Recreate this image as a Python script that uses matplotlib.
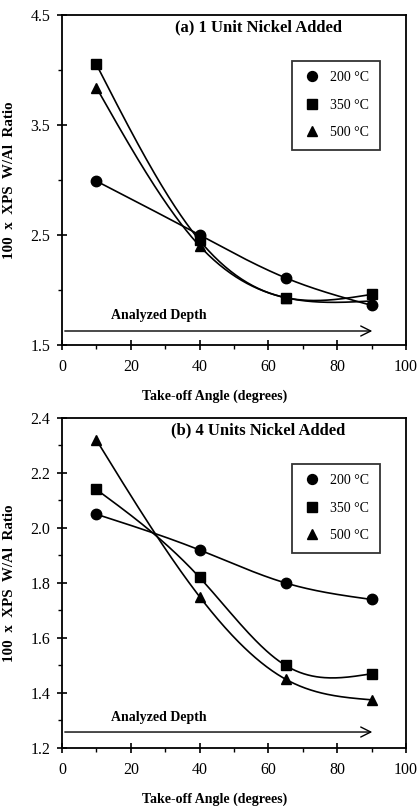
import numpy as np
import matplotlib
matplotlib.use("Agg")
import matplotlib.pyplot as plt
from matplotlib.ticker import MultipleLocator

plt.rcParams['font.family'] = ['Liberation Serif', 'DejaVu Serif']

angles = [10, 40, 65, 90]
labels = ['200 °C', '350 °C', '500 °C']
markers = ['o', 's', '^']

# panel (a): 1 unit nickel added
ratio_a_200 = [2.99, 2.50, 2.11, 1.86]
ratio_a_350 = [4.05, 2.45, 1.93, 1.96]
ratio_a_500 = [3.84, 2.40, 1.93, 1.90]

# panel (b): 4 units nickel added
ratio_b_200 = [2.05, 1.92, 1.80, 1.74]
ratio_b_350 = [2.14, 1.82, 1.50, 1.47]
ratio_b_500 = [2.32, 1.75, 1.45, 1.375]

yticks_a = [1.5, 2.5, 3.5, 4.5]
yticks_b = [1.2, 1.4, 1.6, 1.8, 2.0, 2.2, 2.4]


def natural_spline(x, y, n=200):
    """Natural cubic spline through the points, for the smooth connecting line."""
    x = np.asarray(x, float)
    y = np.asarray(y, float)
    k = len(x)
    h = np.diff(x)
    A = np.zeros((k, k))
    b = np.zeros(k)
    A[0, 0] = A[-1, -1] = 1
    for i in range(1, k - 1):
        A[i, i - 1] = h[i - 1]
        A[i, i] = 2 * (h[i - 1] + h[i])
        A[i, i + 1] = h[i]
        b[i] = 6 * ((y[i + 1] - y[i]) / h[i] - (y[i] - y[i - 1]) / h[i - 1])
    M = np.linalg.solve(A, b)
    xs = np.linspace(x[0], x[-1], n)
    idx = np.clip(np.searchsorted(x, xs) - 1, 0, k - 2)
    x0, x1 = x[idx], x[idx + 1]
    hh = x1 - x0
    t1 = x1 - xs
    t0 = xs - x0
    ys = (M[idx] * t1 ** 3 + M[idx + 1] * t0 ** 3) / (6 * hh) \
        + (y[idx] / hh - M[idx] * hh / 6) * t1 \
        + (y[idx + 1] / hh - M[idx + 1] * hh / 6) * t0
    return xs, ys


def draw_panel(ax, series, title, yticks, arrow_y, text_y):
    for vals, m, lab in zip(series, markers, labels):
        xs, ys = natural_spline(angles, vals)
        ax.plot(xs, ys, color='black', lw=1.2)
        ax.plot(angles, vals, linestyle='none', marker=m, color='black',
                markersize=7.5, label=lab)
    ax.set_xlim(0, 100)
    ax.set_ylim(yticks[0], yticks[-1])
    ax.xaxis.set_major_locator(MultipleLocator(20))
    ax.xaxis.set_minor_locator(MultipleLocator(10))
    ax.set_yticks(yticks)
    ax.set_yticklabels(['%.1f' % v for v in yticks])
    step = yticks[1] - yticks[0]
    ax.set_yticks([v + step / 2 for v in yticks[:-1]], minor=True)
    ax.tick_params(which='major', direction='inout', length=7, width=1.2, labelsize=11.5)
    ax.tick_params(axis='x', which='major', pad=6.5)
    ax.tick_params(axis='y', which='major', pad=5)
    ax.tick_params(which='minor', direction='out', length=3, width=1.0)
    for s in ax.spines.values():
        s.set_linewidth(1.3)
    ylo, yhi = yticks[0], yticks[-1]
    ax.text(57, yhi - (yhi - ylo) * 0.037, title, ha='center', va='center',
            fontsize=12, fontweight='bold')
    ax.annotate('', xy=(91, arrow_y), xytext=(0, arrow_y),
                arrowprops=dict(arrowstyle='->', color='black', lw=1.0,
                                mutation_scale=18))
    ax.text(28, text_y, 'Analyzed Depth', ha='center', va='center',
            fontsize=10, fontweight='bold')
    ax.set_xlabel('Take-off Angle (degrees)', fontsize=10, fontweight='bold')
    ax.xaxis.set_label_coords(0.445, -0.135)
    ax.set_ylabel('100  x  XPS  W/Al  Ratio', fontsize=10.8, fontweight='bold')
    ax.yaxis.set_label_coords(-0.135, 0.5)
    leg = ax.legend(loc='upper left', bbox_to_anchor=(0.669, 0.862), frameon=True,
                    fancybox=False, edgecolor='black', fontsize=10, handlelength=1.4,
                    handletextpad=0.6, borderpad=0.75, labelspacing=1.05,
                    borderaxespad=0, markerscale=0.95)
    leg.get_frame().set_linewidth(1.3)


fig = plt.figure(figsize=(4.17, 8.06), dpi=100)
ax1 = fig.add_axes([0.1487, 0.572, 0.825, 0.4094])
ax2 = fig.add_axes([0.1487, 0.072, 0.825, 0.4094])

draw_panel(ax1, [ratio_a_200, ratio_a_350, ratio_a_500], '(a) 1 Unit Nickel Added',
           yticks_a, 1.627, 1.77)
draw_panel(ax2, [ratio_b_200, ratio_b_350, ratio_b_500], '(b) 4 Units Nickel Added',
           yticks_b, 1.258, 1.31)

fig.savefig('out.png', dpi=100)
